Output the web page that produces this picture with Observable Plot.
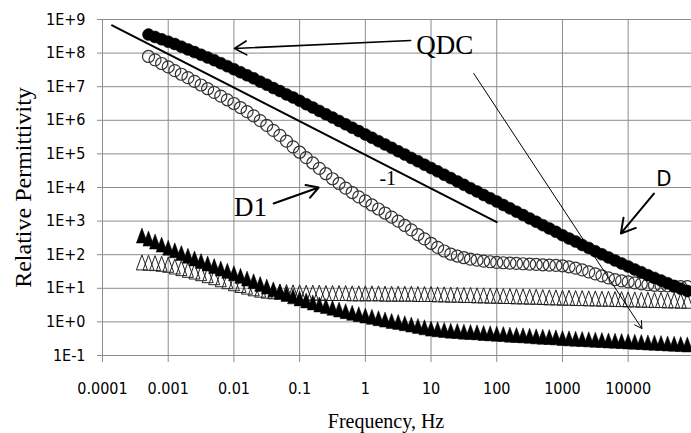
<!DOCTYPE html>
<html>
<head>
<meta charset="utf-8">
<script src="https://cdn.jsdelivr.net/npm/d3@7"></script>
<script src="https://cdn.jsdelivr.net/npm/@observablehq/plot@0.6"></script>
<style>
  html, body { margin: 0; padding: 0; background: #fff; }
  #chart svg { display: block; }
</style>
</head>
<body>
<div id="chart"></div>
<script>
// ---- Data (log10 of frequency in Hz, log10 of relative permittivity) ----
const circleFreqExp = [-3.3,-3.2,-3.1,-3.0,-2.9,-2.8,-2.7,-2.6,-2.5,-2.4,
  -2.3,-2.2,-2.1,-2.0,-1.9,-1.8,-1.7,-1.6,-1.5,-1.4,
  -1.3,-1.2,-1.1,-1.0,-0.9,-0.8,-0.7,-0.6,-0.5,-0.4,
  -0.3,-0.2,-0.1,0.0,0.1,0.2,0.3,0.4,0.5,0.6,
  0.7,0.8,0.9,1.0,1.1,1.2,1.3,1.4,1.5,1.6,
  1.7,1.8,1.9,2.0,2.1,2.2,2.3,2.4,2.5,2.6,
  2.7,2.8,2.9,3.0,3.1,3.2,3.3,3.4,3.5,3.6,
  3.7,3.8,3.9,4.0,4.1,4.2,4.3,4.4,4.5,4.6,
  4.7,4.8,4.9];
const triangleFreqExp = [-3.4,-3.3,-3.2,-3.1,-3.0,-2.9,-2.8,-2.7,-2.6,-2.5,
  -2.4,-2.3,-2.2,-2.1,-2.0,-1.9,-1.8,-1.7,-1.6,-1.5,
  -1.4,-1.3,-1.2,-1.1,-1.0,-0.9,-0.8,-0.7,-0.6,-0.5,
  -0.4,-0.3,-0.2,-0.1,0.0,0.1,0.2,0.3,0.4,0.5,
  0.6,0.7,0.8,0.9,1.0,1.1,1.2,1.3,1.4,1.5,
  1.6,1.7,1.8,1.9,2.0,2.1,2.2,2.3,2.4,2.5,
  2.6,2.7,2.8,2.9,3.0,3.1,3.2,3.3,3.4,3.5,
  3.6,3.7,3.8,3.9,4.0,4.1,4.2,4.3,4.4,4.5,
  4.6,4.7,4.8,4.9];

// QDC (filled circles)
const qdcExp = [8.55,8.48,8.41,8.34,8.27,8.19,8.11,8.03,7.95,7.87,
  7.79,7.70,7.61,7.52,7.43,7.34,7.25,7.15,7.06,6.96,
  6.87,6.77,6.68,6.58,6.48,6.38,6.28,6.18,6.08,5.98,
  5.88,5.78,5.68,5.58,5.48,5.38,5.28,5.18,5.08,4.98,
  4.88,4.78,4.68,4.58,4.48,4.38,4.28,4.18,4.08,3.98,
  3.88,3.78,3.68,3.58,3.48,3.38,3.28,3.18,3.08,2.98,
  2.88,2.78,2.68,2.58,2.48,2.39,2.29,2.20,2.10,2.01,
  1.92,1.83,1.74,1.65,1.56,1.48,1.39,1.31,1.23,1.15,
  1.07,0.99,0.92];
// D1 (open circles)
const d1Exp = [7.90,7.80,7.69,7.59,7.48,7.37,7.27,7.16,7.05,6.94,
  6.83,6.72,6.61,6.50,6.38,6.26,6.13,5.99,5.85,5.70,
  5.55,5.38,5.21,5.05,4.89,4.73,4.57,4.41,4.26,4.12,
  3.98,3.85,3.72,3.60,3.48,3.36,3.24,3.12,3.00,2.87,
  2.74,2.60,2.47,2.34,2.22,2.11,2.02,1.96,1.91,1.87,
  1.84,1.81,1.79,1.77,1.76,1.75,1.74,1.73,1.72,1.71,
  1.70,1.69,1.68,1.67,1.64,1.60,1.55,1.49,1.43,1.37,
  1.31,1.26,1.22,1.19,1.16,1.13,1.11,1.09,1.08,1.07,
  1.06,1.05,1.05];
// D (filled triangles)
const dExp = [2.57,2.48,2.39,2.30,2.21,2.13,2.05,1.97,1.89,1.81,
  1.74,1.66,1.59,1.52,1.45,1.37,1.29,1.21,1.13,1.05,
  0.97,0.90,0.83,0.76,0.70,0.64,0.58,0.52,0.47,0.42,
  0.37,0.32,0.27,0.23,0.19,0.15,0.11,0.07,0.03,0.00,
  -0.04,-0.08,-0.12,-0.16,-0.20,-0.22,-0.24,-0.26,-0.27,-0.29,
  -0.30,-0.31,-0.33,-0.34,-0.35,-0.36,-0.38,-0.39,-0.40,-0.41,
  -0.43,-0.44,-0.45,-0.46,-0.48,-0.49,-0.50,-0.51,-0.52,-0.53,
  -0.54,-0.55,-0.56,-0.57,-0.58,-0.59,-0.60,-0.61,-0.62,-0.63,
  -0.64,-0.65,-0.66,-0.67];
// open triangles
const openTriExp = [1.77,1.76,1.75,1.73,1.70,1.65,1.60,1.55,1.50,1.45,
  1.39,1.33,1.27,1.21,1.15,1.10,1.05,1.00,0.96,0.93,
  0.91,0.90,0.89,0.88,0.88,0.87,0.87,0.87,0.86,0.86,
  0.86,0.86,0.85,0.85,0.85,0.85,0.85,0.84,0.84,0.84,
  0.84,0.84,0.83,0.83,0.83,0.82,0.82,0.81,0.81,0.80,
  0.80,0.79,0.79,0.78,0.78,0.77,0.77,0.76,0.76,0.75,
  0.75,0.74,0.73,0.73,0.72,0.72,0.71,0.71,0.70,0.70,
  0.69,0.69,0.68,0.68,0.67,0.67,0.66,0.66,0.65,0.65,
  0.64,0.64,0.63,0.63];

// Axis ticks
const xTicks = [0.0001, 0.001, 0.01, 0.1, 1, 10, 100, 1000, 10000];
const xTickLabels = ["0.0001", "0.001", "0.01", "0.1", "1", "10", "100", "1000", "10000"];
const yTicks = [1e-1, 1e0, 1e1, 1e2, 1e3, 1e4, 1e5, 1e6, 1e7, 1e8, 1e9];
const yTickLabels = ["1E-1", "1E+0", "1E+1", "1E+2", "1E+3", "1E+4", "1E+5", "1E+6", "1E+7", "1E+8", "1E+9"];

// Reference slope line (-1)
const slopeLine = [{f: 1.4e-4, v: 6.67e8}, {f: 100, v: 933}];

// Annotations (data coordinates)
const arrows = [
  {f1: 4.9, v1: 2.37e8, f2: 0.0102, v2: 1.37e8, w: 1.6, head: 13},
  {f1: 44.7, v1: 2.47e7, f2: 16180, v2: 0.637, w: 1, head: 12},
  {f1: 24660, v1: 6620, f2: 7740, v2: 428, w: 2, head: 12},
  {f1: 0.0402, v1: 3342, f2: 0.195, v2: 1e4, w: 2, head: 10}
];
const serifLabels = [
  {text: "QDC", f: 16.2, v: 1.68e8, size: 27},
  {text: "D1", f: 0.01795, v: 2541, size: 27},
  {text: "-1", f: 2.19, v: 18530, size: 20}
];
const sansLabels = [{text: "D", f: 35000, v: 18530, size: 22}];

const xTitle = "Frequency, Hz";
const yTitle = "Relative Permittivity";

// ---- Build tables ----
const mk = (fx, vy) => fx.map((e, i) => ({f: Math.pow(10, e), v: Math.pow(10, vy[i])}));
const qdc = mk(circleFreqExp, qdcExp);
const d1 = mk(circleFreqExp, d1Exp);
const dTri = mk(triangleFreqExp, dExp);
const openTri = mk(triangleFreqExp, openTriExp);

const xLab = new Map(xTicks.map((t, i) => [t, xTickLabels[i]]));
const yLab = new Map(yTicks.map((t, i) => [t, yTickLabels[i]]));

const tallTriangle = {
  draw(context, size) {
    const r = Math.sqrt(size / Math.PI);
    const w = r * 0.92, h = r * 1.25;
    context.moveTo(0, -h);
    context.lineTo(w, h);
    context.lineTo(-w, h);
    context.closePath();
  }
};

const gridColor = "#8c8c8c";
const serif = "'Liberation Serif', 'Times New Roman', serif";
const sans = "'DejaVu Sans Condensed', 'DejaVu Sans', sans-serif";

const chart = Plot.plot({
  width: 691,
  height: 433,
  marginTop: 19,
  marginBottom: 78,
  marginLeft: 102,
  marginRight: 0,
  style: {fontFamily: sans, fontSize: "16px", background: "#fff", color: "#000", overflow: "visible"},
  x: {type: "log", domain: [1e-4, 92000], label: null},
  y: {type: "log", domain: [0.1, 1e9], label: null},
  marks: [
    Plot.gridX(xTicks, {stroke: gridColor, strokeOpacity: 1, strokeWidth: 1}),
    Plot.gridY(yTicks, {stroke: gridColor, strokeOpacity: 1, strokeWidth: 1}),
    Plot.axisX(xTicks, {tickSize: 7, tickPadding: 20, stroke: gridColor, fill: "#000", tickFormat: (d) => xLab.get(d), label: null, fontSize: 16}),
    Plot.axisY(yTicks, {tickSize: 5, tickPadding: 12, stroke: gridColor, fill: "#000", tickFormat: (d) => yLab.get(d), label: null, fontSize: 16}),
    Plot.dot(d1, {x: "f", y: "v", r: 6, fill: "none", stroke: "#333", strokeWidth: 1.2}),
    Plot.dot(openTri, {x: "f", y: "v", r: 6, symbol: tallTriangle, fill: "none", stroke: "#222", strokeWidth: 1}),
    Plot.dot(dTri, {x: "f", y: "v", r: 6, symbol: tallTriangle, fill: "#000", stroke: "#000", strokeWidth: 0.5}),
    Plot.dot(qdc, {x: "f", y: "v", r: 6, fill: "#000", stroke: "#000", strokeWidth: 0.5}),
    Plot.line(slopeLine, {x: "f", y: "v", stroke: "#000", strokeWidth: 2}),
    ...arrows.map(a => Plot.arrow([a], {x1: "f1", y1: "v1", x2: "f2", y2: "v2", stroke: "#000", strokeWidth: a.w, headLength: a.head})),
    Plot.text(serifLabels, {x: "f", y: "v", text: "text", fontFamily: serif, fontSize: (d) => d.size, fill: "#000"}),
    Plot.text(sansLabels, {x: "f", y: "v", text: "text", fontFamily: sans, fontSize: 22, fill: "#000"}),
    Plot.text([xTitle], {frameAnchor: "bottom", textAnchor: "middle", lineAnchor: "middle", dx: -11, dy: 66, fontFamily: serif, fontSize: 20, fill: "#000"}),
    Plot.text([yTitle], {frameAnchor: "left", textAnchor: "middle", lineAnchor: "middle", dx: -79, dy: 0, rotate: -90, fontFamily: serif, fontSize: 24, fill: "#000"})
  ]
});
document.getElementById("chart").append(chart);
</script>
</body>
</html>
